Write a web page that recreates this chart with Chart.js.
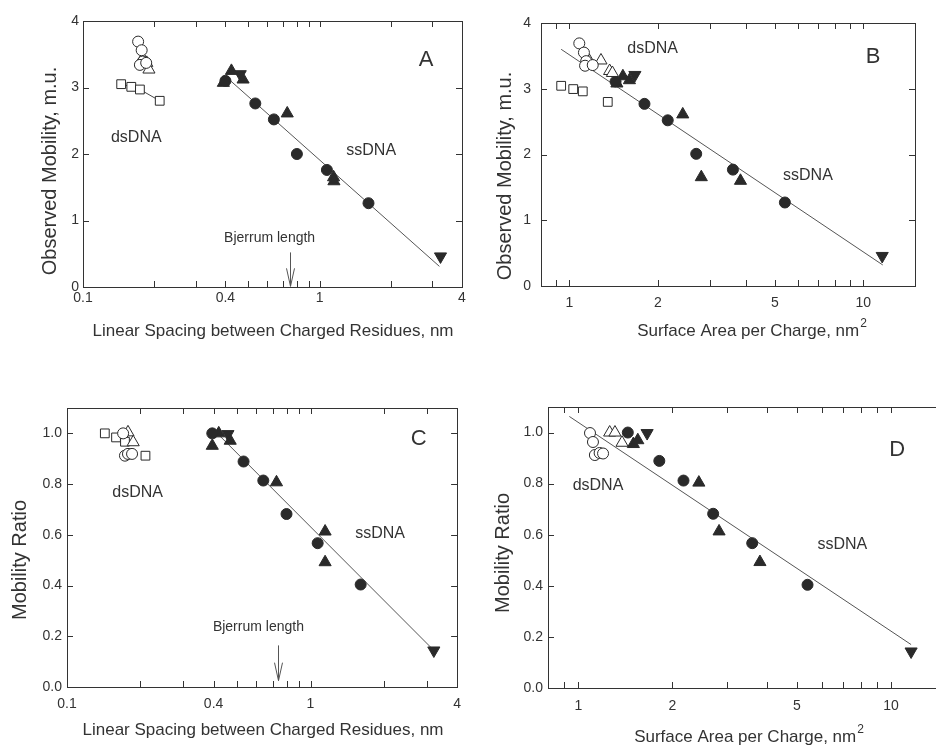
<!DOCTYPE html>
<html>
<head>
<meta charset="utf-8">
<script src="https://cdn.jsdelivr.net/npm/chart.js@4.4.0/dist/chart.umd.min.js"></script>
<style>
  html, body { margin: 0; padding: 0; background: #fff; overflow: hidden; width: 936px; height: 746px; }
  canvas { position: absolute; }
</style>
</head>
<body>
<canvas id="chartA" width="470" height="360" style="left:0;top:0"></canvas>
<canvas id="chartB" width="466" height="360" style="left:470px;top:0"></canvas>
<canvas id="chartC" width="470" height="373" style="left:0;top:373px"></canvas>
<canvas id="chartD" width="480" height="373" style="left:480px;top:373px"></canvas>
<script>
// tick values and labels
const spacingTicks = [0.1, 0.2, 0.3, 0.4, 0.5, 0.6, 0.7, 0.8, 0.9, 1, 2, 3, 4];
const spacingLabels = ['0.1', '', '', '0.4', '', '', '', '', '', '1', '', '', '4'];
const areaTicks = [0.9, 1, 2, 3, 4, 5, 6, 7, 8, 9, 10];
const areaLabels = ['', '1', '2', '', '', '5', '', '', '', '', '10'];
const mobilityTicks = [0, 1, 2, 3, 4];
const mobilityLabels = ['0', '1', '2', '3', '4'];
const ratioTicks = [0, 0.2, 0.4, 0.6, 0.8, 1.0];
const ratioLabels = ['0.0', '0.2', '0.4', '0.6', '0.8', '1.0'];

// Panel A: observed mobility vs linear spacing (nm)
const aDsCircles = [[0.171, 3.69], [0.177, 3.56], [0.179, 3.39], [0.174, 3.34], [0.185, 3.37]];
const aDsTriangles = [[0.179, 3.44], [0.186, 3.37], [0.190, 3.27]];
const aDsSquares = [[0.145, 3.05], [0.160, 3.01], [0.174, 2.97], [0.211, 2.80]];
const aSsCircles = [[0.400, 3.10], [0.535, 2.76], [0.641, 2.52], [0.802, 2.00], [1.074, 1.76], [1.61, 1.26]];
const aSsTriangles = [[0.392, 3.07], [0.424, 3.25], [0.475, 3.12], [0.73, 2.61], [1.146, 1.65], [1.15, 1.59]];
const aSsInverted = [[0.462, 3.20], [3.245, 0.46]];
const aFit = [[0.41, 3.135], [3.21, 0.31]];

// Panel B: observed mobility vs surface area per charge (nm2)
const bDsCircles = [[1.08, 3.69], [1.12, 3.55], [1.14, 3.42], [1.13, 3.35], [1.20, 3.36]];
const bDsTriangles = [[1.17, 3.42], [1.28, 3.43], [1.37, 3.27], [1.40, 3.24]];
const bDsSquares = [[0.937, 3.045], [1.03, 2.995], [1.11, 2.96], [1.35, 2.80]];
const bSsCircles = [[1.435, 3.11], [1.80, 2.77], [2.16, 2.52], [2.70, 2.01], [3.60, 1.77], [5.41, 1.27]];
const bSsTriangles = [[1.45, 3.08], [1.52, 3.19], [1.60, 3.13], [2.43, 2.61], [2.81, 1.655], [3.82, 1.60]];
const bSsInverted = [[1.67, 3.21], [11.6, 0.457]];
const bFit = [[0.937, 3.60], [11.65, 0.32]];

// Panel C: mobility ratio vs linear spacing (nm)
const cDsCircles = [[0.170, 1.0], [0.173, 0.912], [0.178, 0.919], [0.185, 0.919]];
const cDsTriangles = [[0.178, 1.004], [0.187, 0.965]];
const cDsSquares = [[0.143, 1.0], [0.159, 0.984], [0.173, 0.967], [0.21, 0.912]];
const cSsCircles = [[0.395, 1.0], [0.531, 0.889], [0.64, 0.814], [0.797, 0.682], [1.07, 0.567], [1.607, 0.404]];
const cSsTriangles = [[0.395, 0.951], [0.42, 1.0], [0.468, 0.971], [0.725, 0.807], [1.148, 0.613], [1.148, 0.492]];
const cSsInverted = [[0.458, 0.997], [3.21, 0.144]];
const cFit = [[0.417, 0.997], [3.19, 0.147]];

// Panel D: mobility ratio vs surface area per charge (nm2)
const dDsCircles = [[1.09, 0.998], [1.114, 0.963], [1.13, 0.912], [1.17, 0.92], [1.2, 0.918]];
const dDsTriangles = [[1.26, 1.0], [1.31, 1.0], [1.38, 0.96]];
const dSsCircles = [[1.44, 1.0], [1.816, 0.889], [2.17, 0.812], [2.70, 0.682], [3.60, 0.567], [5.41, 0.404]];
const dSsTriangles = [[1.50, 0.955], [1.55, 0.97], [2.43, 0.804], [2.82, 0.613], [3.81, 0.493]];
const dSsInverted = [[1.66, 0.998], [11.6, 0.143]];
const dFit = [[0.936, 1.063], [11.6, 0.17]];

const ink = '#2a2a2a';
const family = 'Arial, "Liberation Sans", Helvetica, sans-serif';

function pts(pairs) {
    return pairs.map(p => ({ x: p[0], y: p[1] }));
}

function markers(pairs, style, filled, opts) {
    opts = opts || {};
    let r = 5.5;
    if (style === 'triangle') r = 7;
    if (style === 'rect') r = 6.2;
    return {
        data: pts(pairs),
        showLine: !!opts.line,
        borderColor: '#444',
        borderWidth: 1,
        pointStyle: style,
        pointRotation: opts.rotation || 0,
        pointRadius: r,
        pointBackgroundColor: filled ? ink : '#fff',
        pointBorderColor: ink,
        pointBorderWidth: 1
    };
}

function fitLine(pairs) {
    return { data: pts(pairs), showLine: true, borderColor: '#555', borderWidth: 1, pointRadius: 0, fill: false };
}

// frame, inward ticks, annotations and axis titles
const decor = {
    id: 'decor',
    afterDatasetsDraw(chart, args, o) {
        const { ctx, chartArea: a, scales: { x, y } } = chart;
        ctx.save();
        ctx.strokeStyle = '#333';
        ctx.lineWidth = 1;
        ctx.strokeRect(Math.round(a.left) + 0.5, Math.round(a.top) + 0.5,
            Math.round(a.right - a.left), Math.round(a.bottom - a.top));
        ctx.beginPath();
        o.xTicks.forEach(v => {
            if (v <= x.min || v >= x.max) return;
            const px = Math.round(x.getPixelForValue(v)) + 0.5;
            ctx.moveTo(px, a.bottom); ctx.lineTo(px, a.bottom - 6);
            ctx.moveTo(px, a.top); ctx.lineTo(px, a.top + 6);
        });
        o.yTicks.forEach(v => {
            if (v <= y.min || v >= y.max) return;
            const py = Math.round(y.getPixelForValue(v)) + 0.5;
            ctx.moveTo(a.left, py); ctx.lineTo(a.left + 6, py);
            ctx.moveTo(a.right, py); ctx.lineTo(a.right - 6, py);
        });
        ctx.stroke();

        ctx.fillStyle = '#333';
        ctx.textAlign = 'center';
        ctx.textBaseline = 'middle';
        o.notes.forEach(n => {
            ctx.font = n.size + 'px ' + family;
            ctx.fillText(n.text, x.getPixelForValue(n.x), y.getPixelForValue(n.y));
        });

        if (o.arrow) {
            const ax = Math.round(x.getPixelForValue(o.arrow.x)) + 0.5;
            const top = y.getPixelForValue(o.arrow.from);
            const tip = y.getPixelForValue(o.arrow.to);
            ctx.strokeStyle = '#555';
            ctx.beginPath();
            ctx.moveTo(ax, top); ctx.lineTo(ax, tip);
            ctx.moveTo(ax - 4, tip - 18); ctx.lineTo(ax, tip); ctx.lineTo(ax + 4, tip - 18);
            ctx.stroke();
        }

        o.titles.forEach(t => {
            ctx.save();
            ctx.translate(t.px, t.py);
            if (t.rotate) ctx.rotate(-Math.PI / 2);
            ctx.font = t.size + 'px ' + family;
            const w = ctx.measureText(t.text).width;
            let supW = 0;
            if (t.sup) {
                ctx.font = Math.round(t.size * 0.7) + 'px ' + family;
                supW = ctx.measureText(t.sup).width + 1;
            }
            const start = -(w + supW) / 2;
            ctx.textAlign = 'left';
            ctx.font = t.size + 'px ' + family;
            ctx.fillText(t.text, start, 0);
            if (t.sup) {
                ctx.font = Math.round(t.size * 0.7) + 'px ' + family;
                ctx.fillText(t.sup, start + w + 1, -t.size * 0.45);
            }
            ctx.restore();
        });
        ctx.restore();
    }
};

function panel(id, p) {
    new Chart(document.getElementById(id), {
        type: 'scatter',
        data: { datasets: p.datasets },
        plugins: [decor],
        options: {
            responsive: false,
            animation: false,
            events: [],
            layout: { padding: p.padding },
            plugins: {
                legend: { display: false },
                tooltip: { enabled: false },
                decor: { xTicks: p.xTicks, yTicks: p.yTicks, notes: p.notes, arrow: p.arrow, titles: p.titles }
            },
            scales: {
                x: {
                    type: 'logarithmic',
                    min: p.xMin, max: p.xMax,
                    grid: { display: false, drawTicks: false },
                    border: { display: false },
                    afterBuildTicks: s => { s.ticks = p.xTicks.map(v => ({ value: v })); },
                    afterFit: s => { s.height = p.xHeight; },
                    ticks: {
                        autoSkip: false, maxRotation: 0, minRotation: 0, padding: p.xPad,
                        color: '#333', font: { family: family, size: 14 },
                        callback: (v, i) => p.xLabels[i]
                    }
                },
                y: {
                    type: 'linear',
                    min: p.yMin, max: p.yMax,
                    grid: { display: false, drawTicks: false },
                    border: { display: false },
                    afterBuildTicks: s => { s.ticks = p.yTicks.map(v => ({ value: v })); },
                    afterFit: s => { s.width = p.yWidth; },
                    ticks: {
                        autoSkip: false, padding: p.yPad,
                        color: '#333', font: { family: family, size: 14 },
                        callback: (v, i) => p.yLabels[i]
                    }
                }
            }
        }
    });
}

const spacingTitle = 'Linear Spacing between Charged Residues, nm';
const areaTitle = 'Surface Area per Charge, nm';

panel('chartA', {
    datasets: [
        markers(aDsCircles, 'circle', false),
        markers(aDsTriangles, 'triangle', false),
        markers(aDsSquares, 'rect', false, { line: true }),
        markers(aSsCircles, 'circle', true),
        markers(aSsTriangles, 'triangle', true),
        markers(aSsInverted, 'triangle', true, { rotation: 180 }),
        fitLine(aFit)
    ],
    xMin: 0.1, xMax: 4, yMin: 0, yMax: 4,
    xTicks: spacingTicks, xLabels: spacingLabels, yTicks: mobilityTicks, yLabels: mobilityLabels,
    padding: { left: 0, top: 21, right: 7, bottom: 13 },
    xHeight: 60, yWidth: 83, xPad: 3, yPad: 4,
    notes: [
        { text: 'dsDNA', x: 0.168, y: 2.24, size: 16 },
        { text: 'ssDNA', x: 1.653, y: 2.05, size: 16 },
        { text: 'A', x: 2.82, y: 3.42, size: 22 },
        { text: 'Bjerrum length', x: 0.615, y: 0.73, size: 14 }
    ],
    arrow: { x: 0.747, from: 0.52, to: 0.01 },
    titles: [
        { text: spacingTitle, px: 273, py: 331, size: 17 },
        { text: 'Observed Mobility, m.u.', px: 50, py: 171, size: 20, rotate: true }
    ]
});

panel('chartB', {
    datasets: [
        markers(bDsCircles, 'circle', false),
        markers(bDsTriangles, 'triangle', false),
        markers(bDsSquares, 'rect', false),
        markers(bSsCircles, 'circle', true),
        markers(bSsTriangles, 'triangle', true),
        markers(bSsInverted, 'triangle', true, { rotation: 180 }),
        fitLine(bFit)
    ],
    xMin: 0.8, xMax: 15, yMin: 0, yMax: 4,
    xTicks: areaTicks, xLabels: areaLabels, yTicks: mobilityTicks, yLabels: mobilityLabels,
    padding: { left: 0, top: 23, right: 21, bottom: 14 },
    xHeight: 60, yWidth: 71, xPad: 9, yPad: 10,
    notes: [
        { text: 'dsDNA', x: 1.92, y: 3.61, size: 16 },
        { text: 'ssDNA', x: 6.48, y: 1.68, size: 16 },
        { text: 'B', x: 10.8, y: 3.49, size: 22 }
    ],
    titles: [
        { text: areaTitle, sup: '2', px: 282, py: 331, size: 17 },
        { text: 'Observed Mobility, m.u.', px: 35, py: 176, size: 20, rotate: true }
    ]
});

panel('chartC', {
    datasets: [
        markers(cDsCircles, 'circle', false),
        markers(cDsTriangles, 'triangle', false),
        markers(cDsSquares, 'rect', false),
        markers(cSsCircles, 'circle', true),
        markers(cSsTriangles, 'triangle', true),
        markers(cSsInverted, 'triangle', true, { rotation: 180 }),
        fitLine(cFit)
    ],
    xMin: 0.1, xMax: 4, yMin: 0, yMax: 1.1,
    xTicks: spacingTicks, xLabels: spacingLabels, yTicks: ratioTicks, yLabels: ratioLabels,
    padding: { left: 0, top: 35, right: 9, bottom: 3 },
    xHeight: 56, yWidth: 67, xPad: 9, yPad: 5,
    notes: [
        { text: 'dsDNA', x: 0.195, y: 0.767, size: 16 },
        { text: 'ssDNA', x: 1.93, y: 0.605, size: 16 },
        { text: 'C', x: 2.78, y: 0.979, size: 22 },
        { text: 'Bjerrum length', x: 0.611, y: 0.236, size: 14 }
    ],
    arrow: { x: 0.736, from: 0.164, to: 0.025 },
    titles: [
        { text: spacingTitle, px: 263, py: 357, size: 17 },
        { text: 'Mobility Ratio', px: 20, py: 187, size: 20, rotate: true }
    ]
});

panel('chartD', {
    datasets: [
        markers(dDsCircles, 'circle', false),
        markers(dDsTriangles, 'triangle', false),
        markers(dSsCircles, 'circle', true),
        markers(dSsTriangles, 'triangle', true),
        markers(dSsInverted, 'triangle', true, { rotation: 180 }),
        fitLine(dFit)
    ],
    xMin: 0.8, xMax: 15, yMin: 0, yMax: 1.1,
    xTicks: areaTicks, xLabels: areaLabels, yTicks: ratioTicks, yLabels: ratioLabels,
    padding: { left: 0, top: 34, right: 14, bottom: 2 },
    xHeight: 56, yWidth: 68, xPad: 10, yPad: 5,
    notes: [
        { text: 'dsDNA', x: 1.156, y: 0.791, size: 16 },
        { text: 'ssDNA', x: 6.99, y: 0.56, size: 16 },
        { text: 'D', x: 10.47, y: 0.932, size: 22 }
    ],
    titles: [
        { text: areaTitle, sup: '2', px: 269, py: 364, size: 17 },
        { text: 'Mobility Ratio', px: 23, py: 180, size: 20, rotate: true }
    ]
});
</script>
</body>
</html>
